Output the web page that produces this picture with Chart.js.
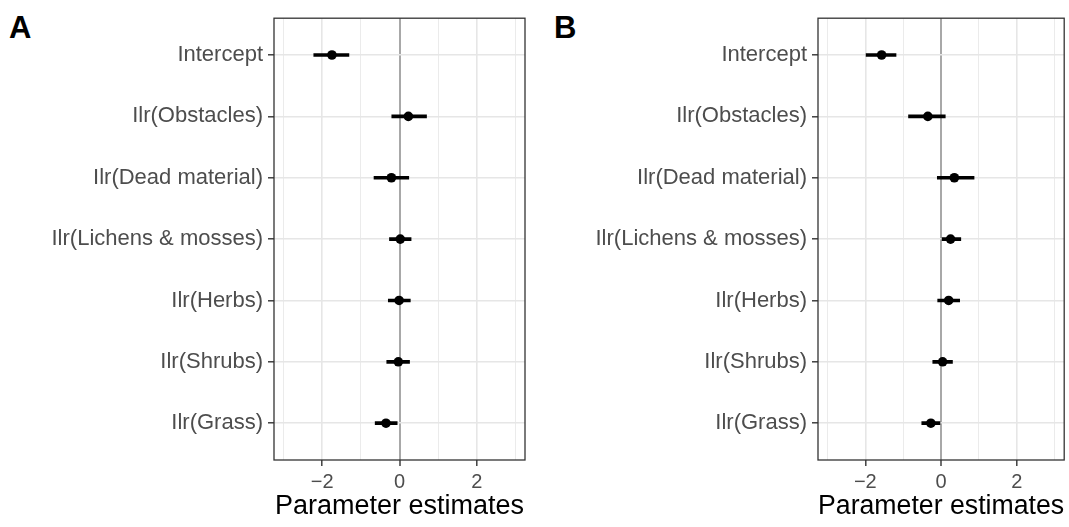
<!DOCTYPE html>
<html>
<head>
<meta charset="utf-8">
<script src="https://cdn.jsdelivr.net/npm/chart.js@4.4.1/dist/chart.umd.min.js"></script>
<style>
  html, body { margin: 0; padding: 0; background: #fff; }
  body { width: 1069px; height: 527px; position: relative; overflow: hidden; font-family: "Liberation Sans", Arial, sans-serif; }
  .panel { position: absolute; top: 0; height: 527px; }
  .tag { position: absolute; top: 10px; font-weight: bold; font-size: 31px; color: #000; }
</style>
</head>
<body>
<div class="tag" style="left:9px">A</div>
<div class="tag" style="left:554px">B</div>
<div class="panel" style="left:0; width:540px"><canvas id="chartA"></canvas></div>
<div class="panel" style="left:545px; width:524px"><canvas id="chartB"></canvas></div>
<script>
const categories = ['Intercept', 'Ilr(Obstacles)', 'Ilr(Dead material)', 'Ilr(Lichens & mosses)', 'Ilr(Herbs)', 'Ilr(Shrubs)', 'Ilr(Grass)'];

const estA  = [-1.75, 0.23, -0.21, 0.02, -0.01, -0.03, -0.35];
const lowA  = [-2.22, -0.20, -0.66, -0.26, -0.29, -0.33, -0.63];
const highA = [-1.31, 0.70, 0.24, 0.30, 0.28, 0.26, -0.06];

const estB  = [-1.57, -0.35, 0.35, 0.25, 0.20, 0.04, -0.27];
const lowB  = [-1.98, -0.86, -0.10, 0.00, -0.09, -0.22, -0.51];
const highB = [-1.19, 0.11, 0.87, 0.52, 0.49, 0.30, -0.03];

const xTicks = [-3, -2, -1, 0, 1, 2, 3];
const xLabelled = [-2, 0, 2];

const FONT = '"Liberation Sans", Arial, sans-serif';

// panel border like theme_bw
const framePlugin = {
  id: 'frame',
  afterDraw(chart) {
    const a = chart.chartArea, ctx = chart.ctx;
    ctx.save();
    ctx.strokeStyle = '#333333';
    ctx.lineWidth = 1.3;
    ctx.strokeRect(a.left, a.top, a.right - a.left, a.bottom - a.top);
    ctx.restore();
  }
};

function makePanel(id, est, low, high, axisWidth, padRight) {
  new Chart(document.getElementById(id), {
    type: 'bar',
    data: {
      datasets: [
        {
          type: 'bar',
          data: low.map((l, i) => ({ x: [l, high[i]], y: i })),
          backgroundColor: '#000',
          borderWidth: 0,
          barThickness: 3,
          order: 2
        },
        {
          type: 'line',
          indexAxis: 'y',
          data: est.map((v, i) => ({ x: v, y: i })),
          showLine: false,
          pointRadius: 4.8,
          pointBackgroundColor: '#000',
          pointBorderWidth: 0,
          order: 1
        }
      ]
    },
    options: {
      indexAxis: 'y',
      responsive: true,
      maintainAspectRatio: false,
      animation: false,
      layout: { padding: { left: 0, right: padRight, top: 14, bottom: 0 } },
      plugins: { legend: { display: false }, tooltip: { enabled: false } },
      scales: {
        x: {
          type: 'linear',
          min: -3.25,
          max: 3.25,
          afterBuildTicks: s => { s.ticks = xTicks.map(v => ({ value: v })); },
          afterFit: s => { s.height = 67; },
          border: { display: false },
          grid: {
            color: c => c.tick.value === 0 ? '#a8a8a8' : '#e6e6e6',
            lineWidth: c => c.tick.value === 0 ? 2 : (xLabelled.includes(c.tick.value) ? 1.6 : 0.8),
            tickColor: c => xLabelled.includes(c.tick.value) ? '#333333' : 'rgba(0,0,0,0)',
            tickWidth: 1.4,
            tickLength: 6
          },
          ticks: {
            autoSkip: false,
            maxRotation: 0,
            padding: 4,
            color: '#4d4d4d',
            font: { family: FONT, size: 20 },
            callback: v => xLabelled.includes(v) ? String(v).replace('-', '\u2212') : ''
          },
          title: {
            display: true,
            text: 'Parameter estimates',
            color: '#000',
            font: { family: FONT, size: 27 },
            padding: { top: 0, bottom: 4 }
          }
        },
        y: {
          type: 'linear',
          reverse: true,
          offset: false,
          min: -0.6,
          max: categories.length - 0.4,
          afterBuildTicks: s => { s.ticks = categories.map((c, i) => ({ value: i })); },
          afterFit: s => { s.width = axisWidth; },
          border: { display: false },
          grid: { offset: false, color: '#e6e6e6', lineWidth: 1.6, tickColor: '#333333', tickWidth: 1.4, tickLength: 6 },
          ticks: {
            autoSkip: false,
            padding: 5,
            color: '#4d4d4d',
            font: { family: FONT, size: 22 },
            callback: v => categories[v]
          }
        }
      }
    },
    plugins: [framePlugin]
  });
}

makePanel('chartA', estA, lowA, highA, 274, 15);
makePanel('chartB', estB, lowB, highB, 273, 1);
</script>
</body>
</html>
